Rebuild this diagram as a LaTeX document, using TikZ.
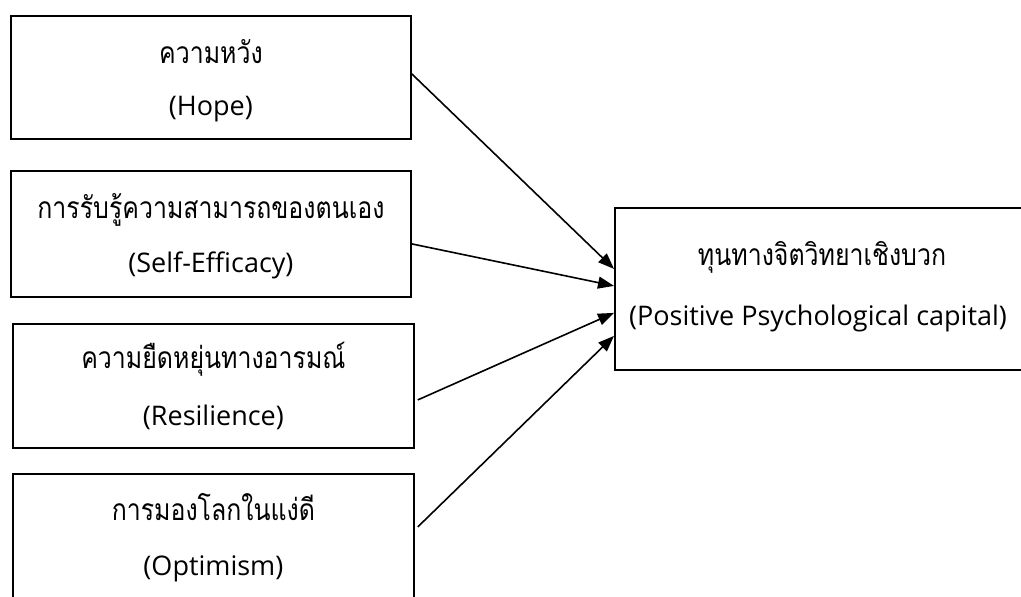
\documentclass[tikz,border=0pt]{standalone}
\usepackage{fontspec}
\setmainfont{Open Sans}
\newfontfamily\thaifont[Script=Thai,FakeStretch=0.83]{Loma}
\usetikzlibrary{arrows.meta,calc}
\begin{document}
\begin{tikzpicture}[x=1pt,y=-1pt,
  box/.style={draw, line width=1.8pt, inner sep=0pt, anchor=north west},
  th/.style={font=\thaifont\fontsize{30}{30}\selectfont, anchor=base, inner sep=0pt},
  en/.style={font=\fontsize{27}{27}\selectfont, anchor=base, inner sep=0pt},
  link/.style={line width=1.6pt, -{Triangle[length=16pt,width=12pt]}}]
\useasboundingbox[fill=white] (0,0) rectangle (1021,597);
\node[box, minimum width=400pt, minimum height=123pt] (b1) at (10,15) {};
\node[box, minimum width=400pt, minimum height=126pt] (b2) at (10,170) {};
\node[box, minimum width=401pt, minimum height=124pt] (b3) at (12,323) {};
\node[box, minimum width=401pt, minimum height=140pt] (b4) at (12,473) {};
\node[box, minimum width=420pt, minimum height=162pt] (r) at (614,207) {};
\node[th] (t1) at ($(b1.north)+(0,48)$) {ความหวัง};
\node[en] (e1) at ($(b1.north)+(0,100)$) {(Hope)};
\node[th] (t2) at ($(b2.north)+(0,48)$) {การรับรู้ความสามารถของตนเอง};
\node[en] (e2) at ($(b2.north)+(0,102)$) {(Self-Efficacy)};
\node[th] (t3) at ($(b3.north)+(0,45)$) {ความยืดหยุ่นทางอารมณ์};
\node[en] (e3) at ($(b3.north)+(0,102)$) {(Resilience)};
\node[th] (t4) at ($(b4.north)+(0,47)$) {การมองโลกในแง่ดี};
\node[en] (e4) at ($(b4.north)+(0,102)$) {(Optimism)};
\node[th] (tr) at (822,265) {ทุนทางจิตวิทยาเชิงบวก};
\node[en] (er) at (818,325) {(Positive Psychological capital)};
\draw[link] ($(b1.east)+(0,-3.5)$) -- ($(r.west)+(0,-20)$);
\draw[link] ($(b2.east)+(0,10)$) -- ($(r.west)+(0,-3)$);
\draw[link] ($(b3.east)+(3,14)$) -- ($(r.west)+(0,24)$);
\draw[link] ($(b4.east)+(3,-17)$) -- ($(r.west)+(0,47)$);
\end{tikzpicture}
\end{document}
